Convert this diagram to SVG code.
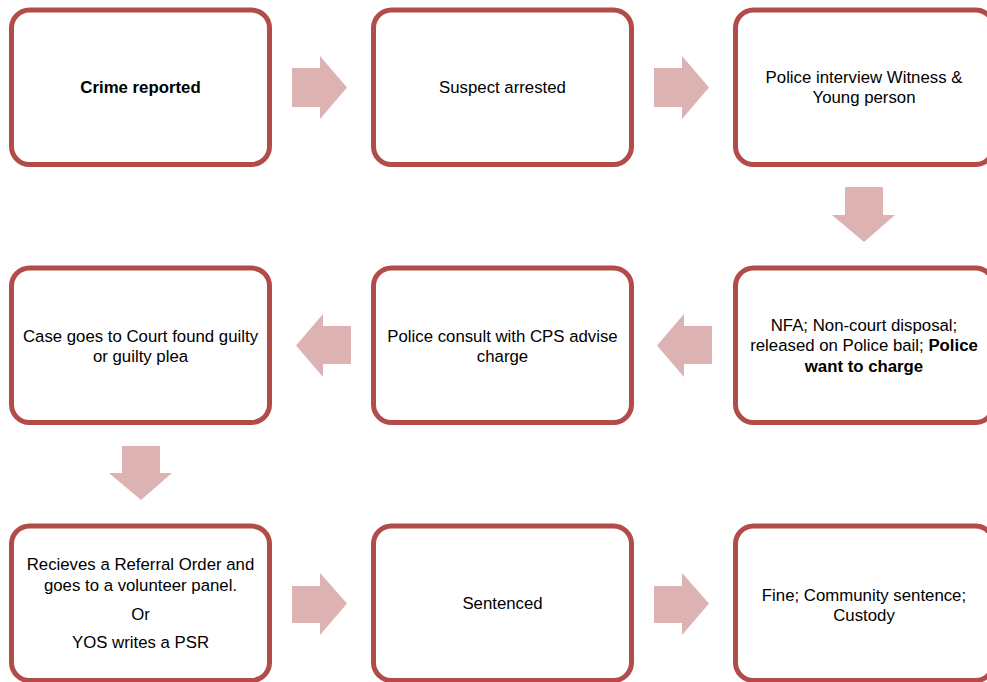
<svg xmlns="http://www.w3.org/2000/svg" width="987" height="682" viewBox="0 0 987 682">
<style>
.box{fill:#fff;stroke:#B24C49;stroke-width:5}
.arr{fill:#DDB2B2}
text{font-family:"Liberation Sans","DejaVu Sans",sans-serif;font-size:16.8px;fill:#000;text-anchor:middle}
.b{font-weight:bold}
</style>
<rect width="987" height="682" fill="#fff"/>
<g id="connectors">
<polygon class="arr" points="292,68 320,68 320,56 347,87.5 320,119 320,107 292,107"/>
<polygon class="arr" points="654,68 682,68 682,56 709,87.5 682,119 682,107 654,107"/>
<polygon class="arr" points="845,187 883,187 883,215 895,215 864,242 832,215 845,215"/>
<polygon class="arr" points="712,326 684,326 684,314 657,345.5 684,377 684,364 712,364"/>
<polygon class="arr" points="351,326 323,326 323,314 296,345.5 323,377 323,364 351,364"/>
<polygon class="arr" points="122,446 160,446 160,473 172,473 141,500 109,473 122,473"/>
<polygon class="arr" points="292,586 320,586 320,573 347,603.5 320,635 320,623 292,623"/>
<polygon class="arr" points="654,586 682,586 682,573 709,603.5 682,635 682,623 654,623"/>
</g>
<g id="n1"><rect class="box" x="11.5" y="10" width="258" height="154.5" rx="18"/><text class="b" x="140.5" y="93">Crime reported</text></g>
<g id="n2"><rect class="box" x="373.5" y="10" width="258" height="154.5" rx="18"/><text x="502.5" y="93">Suspect arrested</text></g>
<g id="n3"><rect class="box" x="735.5" y="10" width="258" height="154.5" rx="18"/><text x="864" y="82.5">Police interview Witness &amp;</text><text x="864" y="103">Young person</text></g>
<g id="n4"><rect class="box" x="735.5" y="268" width="258" height="154.5" rx="18"/><text x="864" y="331">NFA; Non-court disposal;</text><text x="864" y="351">released on Police bail; <tspan class="b">Police</tspan></text><text class="b" x="864" y="371.5">want to charge</text></g>
<g id="n5"><rect class="box" x="373.5" y="268" width="258" height="154.5" rx="18"/><text x="502.5" y="341.5">Police consult with CPS advise</text><text x="502.5" y="361.5">charge</text></g>
<g id="n6"><rect class="box" x="11.5" y="268" width="258" height="154.5" rx="18"/><text x="140.5" y="341.5">Case goes to Court found guilty</text><text x="140.5" y="361.5">or guilty plea</text></g>
<g id="n7"><rect class="box" x="11.5" y="526" width="258" height="154.5" rx="18"/><text x="140.5" y="569.5">Recieves a Referral Order and</text><text x="140.5" y="590.5">goes to a volunteer panel.</text><text x="140.5" y="619.5">Or</text><text x="140.5" y="647.5">YOS writes a PSR</text></g>
<g id="n8"><rect class="box" x="373.5" y="526" width="258" height="154.5" rx="18"/><text x="502.5" y="609">Sentenced</text></g>
<g id="n9"><rect class="box" x="735.5" y="526" width="258" height="154.5" rx="18"/><text x="864" y="600.5">Fine; Community sentence;</text><text x="864" y="620.5">Custody</text></g>
</svg>
